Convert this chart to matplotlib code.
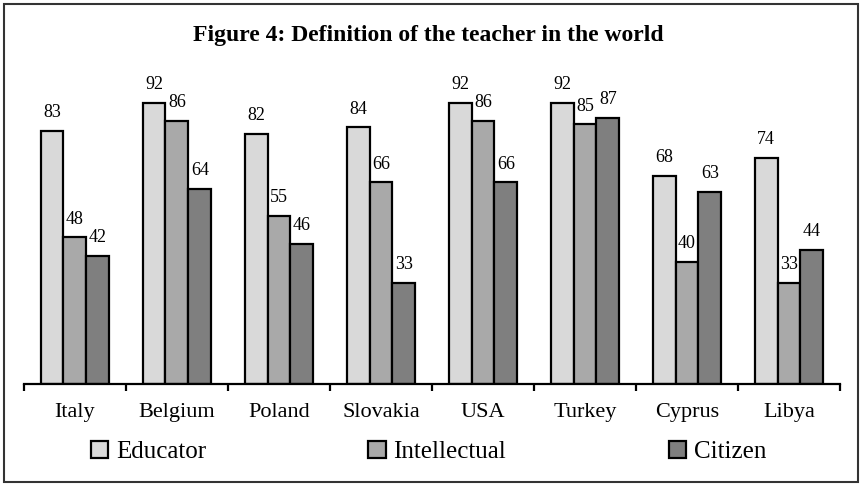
import numpy as np
import matplotlib.pyplot as plt
from matplotlib.patches import Rectangle

plt.rcParams['font.family'] = ['Liberation Serif', 'DejaVu Serif']

countries = ['Italy', 'Belgium', 'Poland', 'Slovakia', 'USA', 'Turkey', 'Cyprus', 'Libya']
educator = [83, 92, 82, 84, 92, 92, 68, 74]
intellectual = [48, 86, 55, 66, 86, 85, 40, 33]
citizen = [42, 64, 46, 33, 66, 87, 63, 44]

series = [('Educator', educator, '#d9d9d9'),
          ('Intellectual', intellectual, '#a9a9a9'),
          ('Citizen', citizen, '#7f7f7f')]

fig = plt.figure(figsize=(8.62, 4.86), dpi=100)
ax = fig.add_axes([0.0278, 0.2099, 0.9467, 0.6284])

x = np.arange(len(countries))
w = 0.225
for i, (name, vals, col) in enumerate(series):
    pos = x + (i - 1) * w
    ax.bar(pos, vals, w, color=col, edgecolor='black', linewidth=1.6, label=name)
    for px, v in zip(pos, vals):
        ax.annotate(str(v), (px, v), xytext=(0, 10), textcoords='offset points',
                    ha='center', va='baseline', fontsize=13)

ax.set_xlim(-0.5, len(countries) - 0.5)
ax.set_ylim(0, 100)
ax.set_yticks([])
for s in ['left', 'right', 'top']:
    ax.spines[s].set_visible(False)
ax.spines['bottom'].set_linewidth(1.6)

# boundary ticks and centred labels
ax.set_xticks(np.arange(len(countries) + 1) - 0.5)
ax.set_xticklabels([])
ax.tick_params(axis='x', which='major', direction='out', length=5, width=1.6)
ax.set_xticks(x, minor=True)
ax.set_xticklabels(countries, minor=True, fontsize=16)
ax.tick_params(axis='x', which='minor', length=0, pad=14)

fig.text(0.497, 0.926, 'Figure 4: Definition of the teacher in the world',
         ha='center', va='center', fontsize=17, fontweight='bold')

fig.legend(loc='center', bbox_to_anchor=(0.497, 0.07), ncol=3, frameon=False,
           fontsize=18, handlelength=0.7, handleheight=0.7, handletextpad=0.3,
           columnspacing=6.5)

fig.patches.append(Rectangle((0.005, 0.008), 0.99, 0.984, transform=fig.transFigure,
                             fill=False, edgecolor='#333333', linewidth=1.5))

fig.savefig('out.png', dpi=100)
